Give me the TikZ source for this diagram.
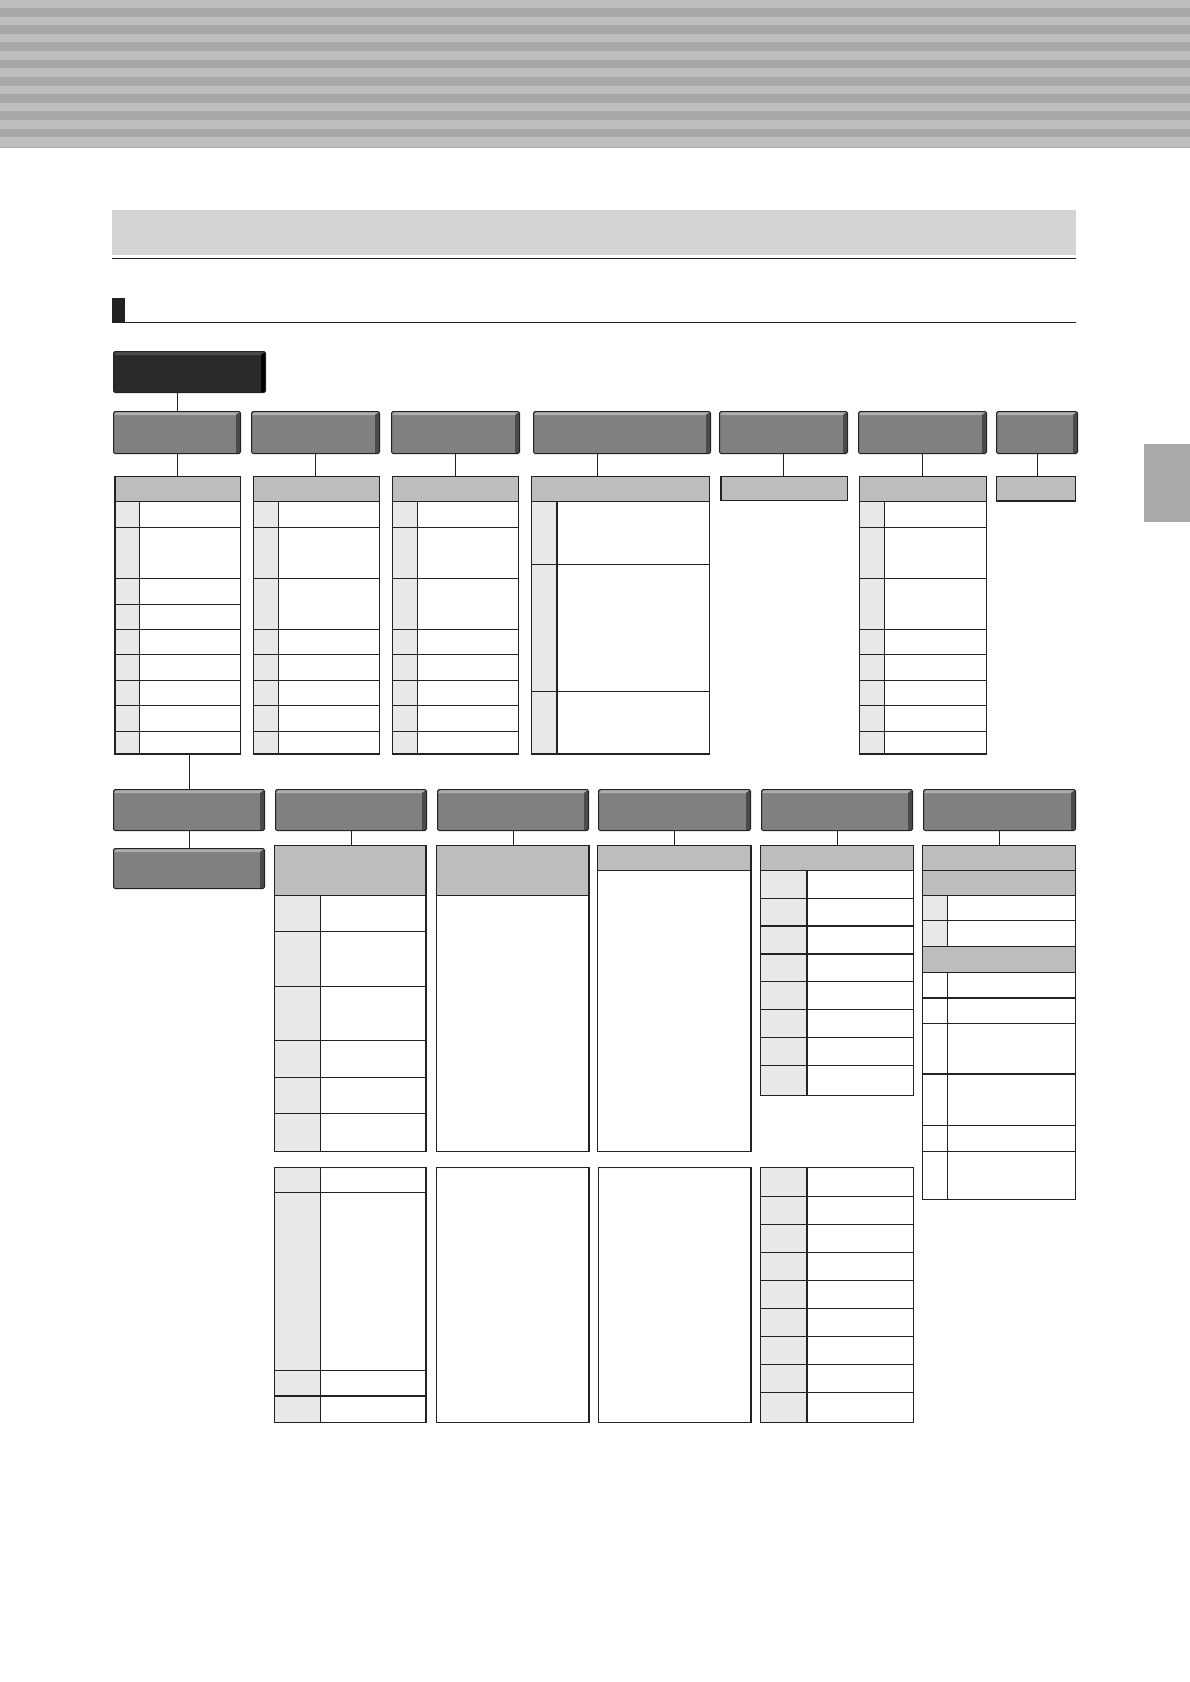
\documentclass[tikz,border=0pt]{standalone}
\usetikzlibrary{calc,positioning}
\definecolor{rayclair}{HTML}{BEBEBE}
\definecolor{rayfonce}{HTML}{A7A7A7}
\definecolor{titregris}{HTML}{D4D4D4}
\definecolor{racine}{HTML}{2A2A2A}
\definecolor{racineclair}{HTML}{4C4C4C}
\definecolor{blocgris}{HTML}{808080}
\definecolor{blocclair}{HTML}{AEAEAE}
\definecolor{blocfonce}{HTML}{4A4A4A}
\definecolor{entete}{HTML}{BDBDBD}
\definecolor{index}{HTML}{E8E8E8}
\definecolor{trait}{HTML}{222222}
\definecolor{onglet}{HTML}{A9A9A9}
\tikzset{
	cell/.style={draw=trait, line width=1.1pt},
	lien/.style={draw=trait, line width=1pt},
	bloc/.style n args={3}{rectangle, rounded corners=1.5pt, draw=trait, line width=1pt,
		inner sep=0pt, anchor=north west, fill=#1,
		path picture={
			\fill[#2, sharp corners] ($(path picture bounding box.north west)+(0,-3.5pt)$)
				-- ($(path picture bounding box.north west)+(3.5pt,0)$)
				-- (path picture bounding box.north east)
				-- ($(path picture bounding box.north east)+(-4.5pt,-3.5pt)$) -- cycle;
			\fill[#3, sharp corners] ($(path picture bounding box.north east)+(-4.5pt,-3.5pt)$)
				-- (path picture bounding box.north east)
				-- (path picture bounding box.south east)
				-- ($(path picture bounding box.south east)+(-4.5pt,0)$) -- cycle;
		}},
	niveau/.style={bloc={blocgris}{blocclair}{blocfonce}},
	sommet/.style={bloc={racine}{racineclair}{black}}
}
% grille : nom, x1, y1, x2, y2, bas en-tete, colonne index, lignes
\newcommand{\grille}[8]{%
	\coordinate (#1-nw) at (#2,#3);
	\coordinate (#1-se) at (#4,#5);
	\fill[entete] (#2,#3) rectangle (#4,#6);
	\fill[index] (#2,#6) rectangle (#7,#5);
	\draw[cell] (#2,#6) -- (#4,#6);
	\draw[cell] (#7,#6) -- (#7,#5);
	\foreach \ligne in {#8} \draw[cell] (#2,\ligne) -- (#4,\ligne);
	\draw[cell] (#1-nw) rectangle (#1-se);
}
\begin{document}
\begin{tikzpicture}[x=1pt, y=-1pt]
	\useasboundingbox (0,0) rectangle (1190,1682);
	\fill[white] (0,0) rectangle (1190,1682);
	%BANDEAU
	\fill[rayclair] (0,0) rectangle (1190,147);
	\foreach \i in {0,...,7}
		\fill[rayfonce] (0,8+17.24*\i) rectangle (1190,16.6+17.24*\i);
	\draw[rayfonce, line width=0.8pt] (0,147) -- (1190,147);
	%TITRE
	\fill[titregris] (111.6,210) rectangle (1076.3,255);
	\draw[trait, line width=1.2pt] (111.6,258.6) -- (1076.3,258.6);
	\fill[trait] (111.6,298) rectangle (124.5,322);
	\draw[trait, line width=1pt] (111.6,322) -- (1076.3,322);
	%onglet
	\fill[onglet] (1144,444) rectangle (1190,522);

	%RACINE ET NIVEAU 1
	\node[sommet, minimum width=152pt, minimum height=41pt] (root) at (113,351) {};
	\node[niveau, minimum width=127pt, minimum height=42pt] (b1) at (113,411) {};
	\node[niveau, minimum width=128pt, minimum height=42pt] (b2) at (251,411) {};
	\node[niveau, minimum width=128pt, minimum height=42pt] (b3) at (391,411) {};
	\node[niveau, minimum width=177pt, minimum height=42pt] (b4) at (533,411) {};
	\node[niveau, minimum width=128pt, minimum height=42pt] (b5) at (719,411) {};
	\node[niveau, minimum width=128pt, minimum height=42pt] (b6) at (858,411) {};
	\node[niveau, minimum width=81pt, minimum height=42pt] (b7) at (996,411) {};

	\grille{t1}{115}{476.4}{240.5}{754}{501.3}{139.5}{527.3,578.3,604.3,629.3,654.3,680.3,705.3,731.3}
	\grille{t2}{253.7}{476.4}{379.3}{754}{501.3}{278.3}{527.3,578.3,629.3,654.3,680.3,705.3,731.3}
	\grille{t3}{392.7}{476.4}{518.3}{754}{501.3}{417.3}{527.3,578.3,629.3,654.3,680.3,705.3,731.3}
	\grille{t4}{531.2}{476.4}{709.3}{754}{501.3}{557}{564.3,691.3}
	\grille{t5}{721}{476.4}{847.7}{500.5}{500.5}{721}{500.5}
	\grille{t6}{859.5}{476.4}{986.1}{754}{501.3}{884.2}{527.3,578.3,629.3,654.3,680.3,705.3,731.3}
	\grille{t7}{996.9}{476.4}{1075.2}{501}{501}{996.9}{501}

	\draw[lien] (b1.north) -- (b1.north |- root.south);
	\foreach \k in {1,2,3,5,6,7}
		\draw[lien] (b\k.south) -- (b\k.south |- t\k-nw);
	\draw[lien] (b4.south west) ++(64pt,0) coordinate (k4) -- (k4 |- t4-nw);

	%NIVEAU 2
	\node[niveau, minimum width=151pt, minimum height=41pt] (c1) at (113,789) {};
	\node[niveau, minimum width=151pt, minimum height=41pt] (c2) at (275,789) {};
	\node[niveau, minimum width=151pt, minimum height=41pt] (c3) at (437,789) {};
	\node[niveau, minimum width=152pt, minimum height=41pt] (c4) at (598,789) {};
	\node[niveau, minimum width=151pt, minimum height=41pt] (c5) at (761,789) {};
	\node[niveau, minimum width=152pt, minimum height=41pt] (c6) at (923,789) {};
	\node[niveau, minimum width=151pt, minimum height=40pt] (d1) at (113,848) {};

	\grille{u2}{274.7}{845.5}{426}{1151.4}{895.3}{320.8}{931.4,986.1,1040.9,1077.3,1113.9}
	\grille{u3}{436.7}{845.5}{589}{1151.4}{895.3}{436.7}{1151.4}
	\grille{u4}{597.7}{845.5}{751}{1151.4}{870.2}{597.7}{1151.4}
	\grille{u5}{760.8}{845.5}{913.2}{1095.6}{870.2}{807}{898.1,926,954,981.8,1009.7,1037.6,1065.5}
	%u6 avec deux sous-titres
	\coordinate (u6-nw) at (922.8,845.5);
	\coordinate (u6-se) at (1075.2,1199.7);
	\fill[entete] (922.8,845.5) rectangle (1075.2,895.3);
	\fill[index] (922.8,895.3) rectangle (947.5,946.4);
	\fill[entete] (922.8,946.4) rectangle (1075.2,972.2);
	\foreach \ligne in {870.2,895.3,920.7,946.4,972.2,998,1023.7,1074,1125.6,1151.4}
		\draw[cell] (922.8,\ligne) -- (1075.2,\ligne);
	\draw[cell] (947.5,895.3) -- (947.5,946.4);
	\draw[cell] (947.5,972.2) -- (947.5,1199.7);
	\draw[cell] (u6-nw) rectangle (u6-se);

	\draw[lien] (c1.north) -- (c1.north |- t1-se);
	\draw[lien] (c1.south) -- (d1.north);
	\foreach \k in {2,...,6}
		\draw[lien] (c\k.south) -- (c\k.south |- u\k-nw);

	%GRILLES DU BAS
	\grille{v2}{274.7}{1167.5}{426}{1422.8}{1167.5}{320.8}{1192.2,1370.3,1396}
	\grille{v3}{436.7}{1167.5}{589}{1422.8}{1167.5}{436.7}{1422.8}
	\grille{v4}{598.8}{1167.5}{751}{1422.8}{1167.5}{598.8}{1422.8}
	\grille{v5}{760.8}{1167.5}{913.2}{1422.8}{1167.5}{807}{1196.3,1224.3,1252.3,1280.3,1308.3,1336.3,1364.3,1392.3}
\end{tikzpicture}
\end{document}
